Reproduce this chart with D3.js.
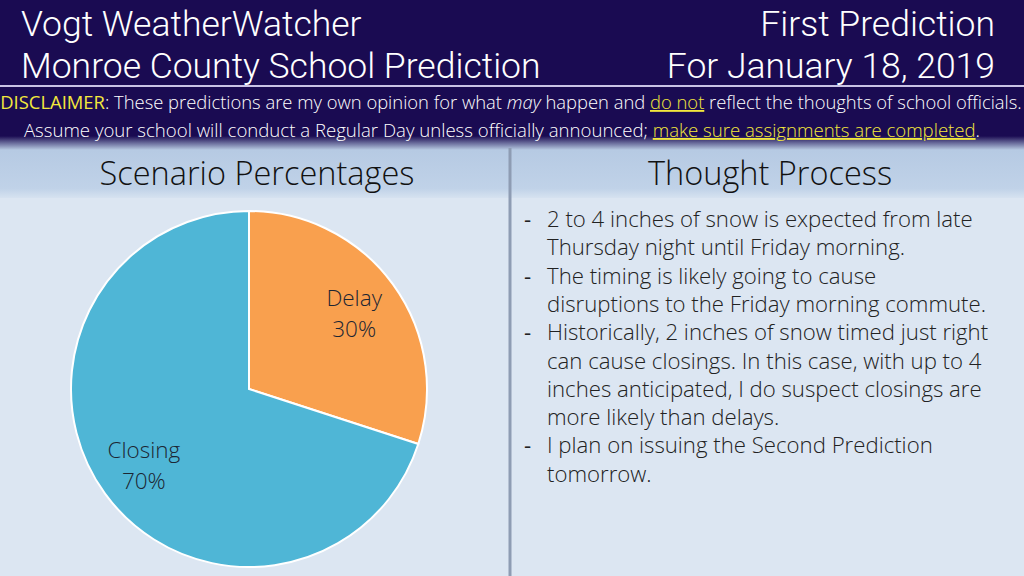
<!DOCTYPE html>
<meta charset="utf-8">
<style>
body { margin: 0; background: #dce6f2; }
svg { display: block; }
text { font-family: "Open Sans", sans-serif; }
</style>
<body>
<script src="https://d3js.org/d3.v7.min.js"></script>
<script>
// chart data
var scenarios = ["Delay", "Closing"];
var percents = [30, 70];
var sliceColors = ["#f9a04e", "#4fb6d6"];

var titleLeft = ["Vogt WeatherWatcher", "Monroe County School Prediction"];
var titleRight = ["First Prediction", "For January 18, 2019"];
var thoughts = [
  ["2 to 4 inches of snow is expected from late", "Thursday night until Friday morning."],
  ["The timing is likely going to cause", "disruptions to the Friday morning commute."],
  ["Historically, 2 inches of snow timed just right", "can cause closings. In this case, with up to 4",
   "inches anticipated, I do suspect closings are", "more likely than delays."],
  ["I plan on issuing the Second Prediction", "tomorrow."]
];

var width = 1024, height = 576;

var svg = d3.select("body").append("svg")
    .attr("width", width)
    .attr("height", height);

var defs = svg.append("defs");
var fade = defs.append("linearGradient")
    .attr("id", "fade").attr("x1", 0).attr("y1", 0).attr("x2", 0).attr("y2", 1);
fade.append("stop").attr("offset", "0%").attr("stop-color", "#1a0b52");
fade.append("stop").attr("offset", "100%").attr("stop-color", "#b8cbe3");

var band = defs.append("linearGradient")
    .attr("id", "band").attr("x1", 0).attr("y1", 0).attr("x2", 0).attr("y2", 1);
band.append("stop").attr("offset", "0%").attr("stop-color", "#b6cae3");
band.append("stop").attr("offset", "80%").attr("stop-color", "#c0d2e8");
band.append("stop").attr("offset", "100%").attr("stop-color", "#d6e2f0");

// background pieces
svg.append("rect").attr("width", width).attr("height", height).attr("fill", "#dce6f2");
svg.append("rect").attr("width", width).attr("height", 142).attr("fill", "#1a0b52");
svg.append("rect").attr("y", 136).attr("width", width).attr("height", 14).attr("fill", "url(#fade)");
svg.append("rect").attr("y", 150).attr("width", width).attr("height", 48).attr("fill", "url(#band)");

svg.append("line")
    .attr("x1", 0).attr("x2", width).attr("y1", 86).attr("y2", 86)
    .attr("stroke", "#c9c3e6").attr("stroke-width", 2);

svg.append("line")
    .attr("x1", 510).attr("x2", 510).attr("y1", 148).attr("y2", height)
    .attr("stroke", "#8e9cb3").attr("stroke-width", 3);

// header titles (Roboto keeps the two lines from colliding)
svg.selectAll(".tl").data(titleLeft).enter().append("text")
    .attr("class", "tl")
    .attr("x", 21).attr("y", function(d, i) { return 36 + i * 42; })
    .attr("fill", "#fff").style("font-family", "Roboto, sans-serif")
    .style("font-size", "35.5px").style("font-weight", 300)
    .text(function(d) { return d; });

svg.selectAll(".tr").data(titleRight).enter().append("text")
    .attr("class", "tr")
    .attr("x", 995).attr("y", function(d, i) { return 36 + i * 42; })
    .attr("text-anchor", "end")
    .attr("fill", "#fff").style("font-family", "Roboto, sans-serif")
    .style("font-size", "35.5px").style("font-weight", 300)
    .text(function(d) { return d; });

// disclaimer
var d1 = svg.append("text").attr("x", 511).attr("y", 109)
    .attr("text-anchor", "middle").attr("fill", "#fff")
    .style("font-size", "18.4px").style("font-weight", 300);
d1.append("tspan").attr("fill", "#f3e83c").style("font-weight", 400).text("DISCLAIMER");
d1.append("tspan").text(": These predictions are my own opinion for what ");
d1.append("tspan").style("font-style", "italic").text("may");
d1.append("tspan").text(" happen and ");
d1.append("tspan").attr("fill", "#f3e83c").attr("text-decoration", "underline").text("do not");
d1.append("tspan").text(" reflect the thoughts of school officials.");

var d2 = svg.append("text").attr("x", 502).attr("y", 137)
    .attr("text-anchor", "middle").attr("fill", "#fff")
    .style("font-size", "18.6px").style("font-weight", 300);
d2.append("tspan").text("Assume your school will conduct a Regular Day unless officially announced; ");
d2.append("tspan").attr("fill", "#f3e83c").attr("text-decoration", "underline").text("make sure assignments are completed");
d2.append("tspan").text(".");

// section titles
svg.append("text").attr("x", 257).attr("y", 185).attr("text-anchor", "middle")
    .attr("fill", "#111").style("font-size", "32.5px").style("font-weight", 300)
    .text("Scenario Percentages");
svg.append("text").attr("x", 770).attr("y", 185).attr("text-anchor", "middle")
    .attr("fill", "#111").style("font-size", "32.5px").style("font-weight", 300)
    .text("Thought Process");

// pie
var cx = 249, cy = 389, r = 178;
var pie = d3.pie().sort(null).value(function(d) { return d; });
var arc = d3.arc().innerRadius(0).outerRadius(r);
var labelArc = d3.arc().innerRadius(130).outerRadius(130);

var g = svg.append("g").attr("transform", "translate(" + cx + "," + cy + ")");
var slices = g.selectAll(".slice").data(pie(percents)).enter().append("g").attr("class", "slice");
slices.append("path")
    .attr("d", arc)
    .attr("fill", function(d, i) { return sliceColors[i]; })
    .attr("stroke", "#fff").attr("stroke-width", 2);

var lab = slices.append("text")
    .attr("transform", function(d) { return "translate(" + labelArc.centroid(d) + ")"; })
    .attr("text-anchor", "middle")
    .attr("fill", "#1c2633").style("font-size", "22.5px").style("font-weight", 300);
lab.append("tspan").attr("x", 0).attr("y", -7).text(function(d, i) { return scenarios[i]; });
lab.append("tspan").attr("x", 0).attr("y", 24).text(function(d) { return d.data + "%"; });

// thought process list
var lineY = 227, step = 28.3;
var row = 0;
thoughts.forEach(function(item) {
  svg.append("text").attr("x", 524).attr("y", lineY + row * step)
      .attr("fill", "#222").style("font-size", "22.2px").text("-");
  item.forEach(function(line) {
    svg.append("text").attr("x", 547).attr("y", lineY + row * step)
        .attr("fill", "#222").style("font-size", "22.2px").style("font-weight", 300)
        .text(line);
    row++;
  });
});
</script>
</body>
